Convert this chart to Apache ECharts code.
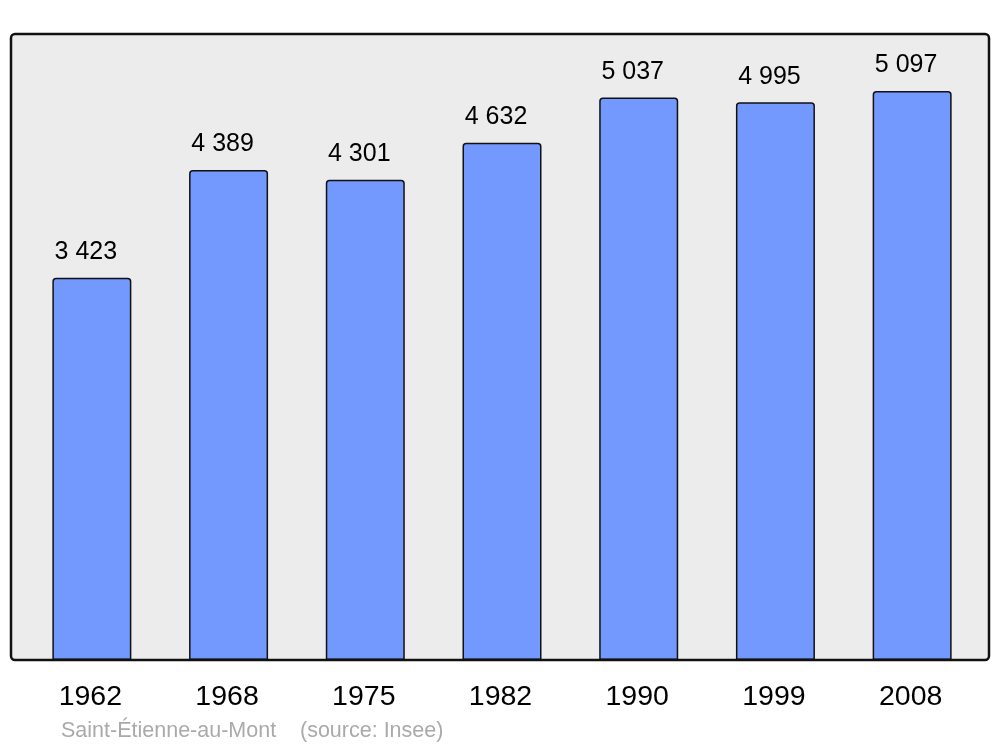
<!DOCTYPE html>
<html>
<head>
<meta charset="utf-8">
<script src="https://cdn.jsdelivr.net/npm/echarts@6/dist/echarts.min.js"></script>
<style>
  html, body { margin: 0; padding: 0; background: #ffffff; }
  #chart { width: 1000px; height: 747px; }
</style>
</head>
<body>
<div id="chart"></div>
<script>
const years = ['1962', '1968', '1975', '1982', '1990', '1999', '2008'];
const population = [3423, 4389, 4301, 4632, 5037, 4995, 5097];
const placeName = 'Saint-Étienne-au-Mont';
const sourceText = '(source: Insee)';

const chart = echarts.init(document.getElementById('chart'), null, { renderer: 'canvas' });
const FONT = '"Liberation Sans", Arial, sans-serif';

chart.setOption({
  animation: false,
  backgroundColor: '#ffffff',
  grid: { left: 23.5, top: 34, width: 957, height: 626, containLabel: false },
  xAxis: {
    type: 'category',
    data: years,
    boundaryGap: true,
    axisLine: { show: false },
    axisTick: { show: false },
    axisLabel: { color: '#000', fontSize: 28.5, fontFamily: FONT, margin: 23, padding: [0, 3, 0, 0] }
  },
  yAxis: {
    type: 'value',
    min: 0,
    max: Math.max(...population) * 1.1,
    show: false,
    splitLine: { show: false }
  },
  graphic: [
    {
      type: 'rect', z: -10, silent: true,
      shape: { x: 11, y: 34, width: 978, height: 626, r: 4 },
      style: { fill: '#ececec', stroke: null }
    },
    {
      type: 'rect', z: 100, silent: true,
      shape: { x: 11, y: 34, width: 978, height: 626, r: 4 },
      style: { fill: null, stroke: '#111', lineWidth: 2.5 }
    },
    {
      type: 'text', left: 61, top: 720, silent: true,
      style: { text: placeName, fill: '#aaaaaa', font: '21.5px ' + FONT }
    },
    {
      type: 'text', left: 300, top: 720, silent: true,
      style: { text: sourceText, fill: '#aaaaaa', font: '21.5px ' + FONT }
    }
  ],
  series: [{
    type: 'bar',
    data: population,
    barWidth: 79,
    itemStyle: { color: '#7399ff', borderColor: '#111', borderWidth: 1.5, borderRadius: [3, 3, 0, 0] },
    label: {
      show: true,
      position: 'top',
      distance: 13,
      offset: [-6, 0],
      color: '#000',
      fontSize: 25,
      fontFamily: FONT,
      formatter: p => String(p.value).replace(/\B(?=(\d{3})+(?!\d))/g, ' ')
    }
  }]
});
</script>
</body>
</html>
